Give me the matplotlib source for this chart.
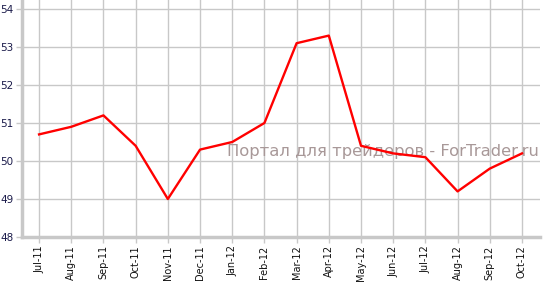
import matplotlib
matplotlib.use("Agg")
import matplotlib.pyplot as plt

months = ["Jul-11", "Aug-11", "Sep-11", "Oct-11", "Nov-11", "Dec-11", "Jan-12", "Feb-12",
          "Mar-12", "Apr-12", "May-12", "Jun-12", "Jul-12", "Aug-12", "Sep-12", "Oct-12"]
values = [50.7, 50.9, 51.2, 50.4, 49.0, 50.3, 50.5, 51.0,
          53.1, 53.3, 50.4, 50.2, 50.1, 49.2, 49.8, 50.2]
yticks = [48, 49, 50, 51, 52, 53, 54]

fig = plt.figure(figsize=(5.45, 2.83), dpi=100)
ax = fig.add_axes([22/545, 46/283, 518/545, 237/283])

x = list(range(len(months)))
ax.plot(x, values, color="#ff0000", lw=1.7, zorder=4)

ax.set_xlim(-0.53, len(months) - 1 + 0.56)
ax.set_ylim(48, 54 + 9/38)
ax.set_yticks(yticks)
ax.set_yticklabels([str(v) for v in yticks], color="#1a1a4a", fontsize=7.5)
ax.set_xticks(x)
ax.set_xticklabels(months, rotation=90, fontsize=7, color="#111111")

ax.grid(True, color="#c8c8c8", lw=1)
ax.set_axisbelow(True)
for s in ["top", "right"]:
    ax.spines[s].set_visible(False)
for s in ["left", "bottom"]:
    ax.spines[s].set_color("#c8c8c8")
    ax.spines[s].set_linewidth(2.5)
ax.tick_params(axis="both", color="#c8c8c8", length=4, width=1, pad=2)

ax.text(0.997, 0.36, "Портал для трейдеров - ForTrader.ru", transform=ax.transAxes,
        ha="right", va="center", fontsize=11.8, color="#a89898", zorder=3)

fig.savefig("out.png", dpi=100)
